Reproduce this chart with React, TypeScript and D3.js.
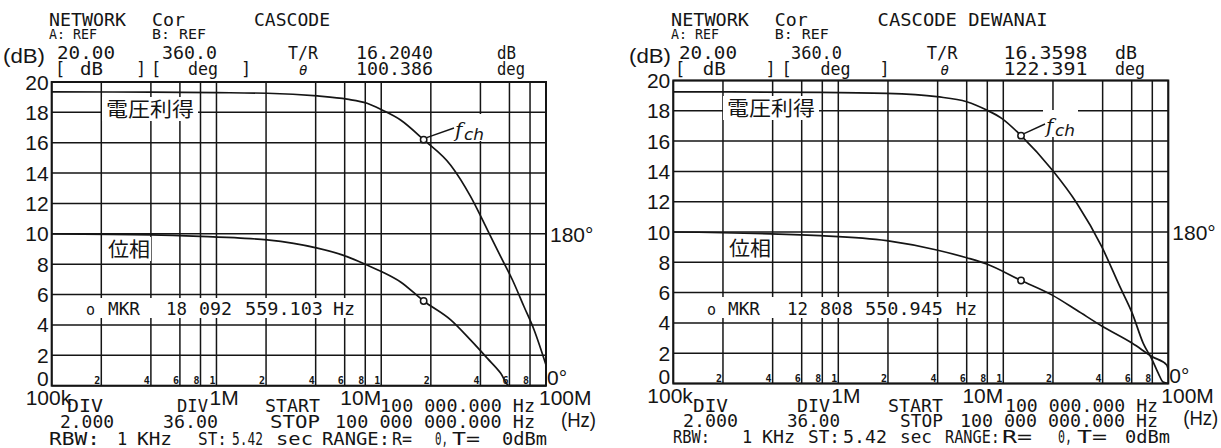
import React from "react";
import * as d3 from "d3";

// ---------------- data ----------------
const yTicks = [0, 2, 4, 6, 8, 10, 12, 14, 16, 18, 20];
const decades = [1e5, 1e6, 1e7];
const gridMults = [1, 2, 4, 6, 8];
const freqDomain = [1e5, 1e8];
const xTickLabels = ["100k", "1M", "10M", "100M"];
const xTickValues = [1e5, 1e6, 1e7, 1e8];

// Left: CASCODE
const gainFreqL = [1e5, 4e5, 1e6, 2.03e6, 4.1e6, 6.2e6, 8.2e6, 10.1e6, 13.1e6, 18.09e6, 26.4e6, 34.9e6, 44.1e6, 53.1e6, 62.6e6, 73.6e6, 84.7e6, 1e8];
const gainDbL = [19.35, 19.33, 19.3, 19.26, 19.08, 18.87, 18.6, 18.16, 17.5, 16.2, 14.52, 12.45, 10.26, 8.5, 6.96, 5.2, 3.67, 1.36];
const phaseFreqL = [1e5, 4e5, 8e5, 1.4e6, 2.03e6, 4.1e6, 6.2e6, 8.2e6, 10.1e6, 13.1e6, 18.09e6, 26.4e6, 34.9e6, 44.1e6, 53.1e6, 59.7e6, 1e8];
const phaseDegL = [180, 178.8, 177, 175, 172.8, 163, 153, 143, 135, 123, 100.4, 78, 54, 32.4, 14.8, 0, 0];
const markerL = { f: 18092559.103, gain: 16.204, phase: 100.386 };

// Right: CASCODE DEWANAI
const gainFreqR = [1e5, 7.75e5, 1.965e6, 3.95e6, 6.0e6, 7.93e6, 9.78e6, 12.81e6, 19.8e6, 27.9e6, 39.5e6, 50.9e6, 60.5e6, 70.5e6, 80e6, 87e6, 92.9e6, 1e8];
const gainDbR = [19.25, 19.22, 19.15, 18.93, 18.6, 18.05, 17.5, 16.36, 14.09, 11.9, 9.03, 6.39, 4.63, 2.65, 1.55, 0.67, 0.1, 0];
const phaseFreqR = [1e5, 7.75e5, 1.965e6, 3.95e6, 6.0e6, 7.93e6, 12.81e6, 19.8e6, 27.9e6, 39.5e6, 60.5e6, 80e6, 97.8e6, 1e8];
const phaseDegR = [180, 175.6, 169.7, 158.6, 149.4, 142, 122.4, 105, 87, 68.3, 47.8, 31.8, 22, 16];
const markerR = { f: 12808550.945, gain: 16.3598, phase: 122.391 };

// ---------------- layout ----------------
type T = { t: string; x: number; y: number; w?: number; s?: number; it?: boolean };

const headerL: T[] = [
  { t: "NETWORK", x: 49, y: 26, w: 77 }, { t: "Cor", x: 152, y: 26, w: 33 }, { t: "CASCODE", x: 254, y: 26, w: 76 },
  { t: "A: REF", x: 49, y: 39, w: 48, s: 14 }, { t: "B: REF", x: 152, y: 39, w: 54, s: 14 },
  { t: "20.00", x: 57, y: 59, w: 58 }, { t: "360.0", x: 162, y: 59, w: 55 }, { t: "T/R", x: 288, y: 59, w: 30 },
  { t: "16.2040", x: 356, y: 59, w: 77 }, { t: "dB", x: 497, y: 59, w: 19 },
  { t: "[", x: 55, y: 75 }, { t: "dB", x: 80, y: 75, w: 23 }, { t: "]", x: 136, y: 75 }, { t: "[", x: 151, y: 75 },
  { t: "deg", x: 188, y: 75, w: 30 }, { t: "]", x: 241, y: 75 }, { t: "θ", x: 299, y: 75, s: 14, it: true },
  { t: "100.386", x: 356, y: 75, w: 77 }, { t: "deg", x: 497, y: 75, w: 28 },
];
const headerR: T[] = [
  { t: "NETWORK", x: 671, y: 26, w: 78 }, { t: "Cor", x: 774.7, y: 26, w: 33 }, { t: "CASCODE DEWANAI", x: 877.6, y: 26, w: 170 },
  { t: "A: REF", x: 671, y: 39, w: 48, s: 14 }, { t: "B: REF", x: 774.7, y: 39, w: 54, s: 14 },
  { t: "20.00", x: 679, y: 59, w: 58 }, { t: "360.0", x: 791, y: 59, w: 51 }, { t: "T/R", x: 926.7, y: 59, w: 31 },
  { t: "16.3598", x: 1003.4, y: 59, w: 84 }, { t: "dB", x: 1115, y: 59, w: 22 },
  { t: "[", x: 675, y: 75 }, { t: "dB", x: 702.8, y: 75, w: 23 }, { t: "]", x: 765.6, y: 75 }, { t: "[", x: 781.4, y: 75 },
  { t: "deg", x: 820.6, y: 75, w: 30 }, { t: "]", x: 879.5, y: 75 }, { t: "θ", x: 940.5, y: 75, s: 14, it: true },
  { t: "122.391", x: 1003.4, y: 75, w: 84 }, { t: "deg", x: 1115, y: 75, w: 30 },
];
const footerL: T[] = [
  { t: "DIV", x: 67, y: 412, w: 36 }, { t: "DIV", x: 177, y: 412, w: 31 }, { t: "START", x: 265, y: 412, w: 55 },
  { t: "100 000.000 Hz", x: 380, y: 412, w: 155 },
  { t: "2.000", x: 60, y: 428, w: 54 }, { t: "36.00", x: 163, y: 428, w: 55 }, { t: "STOP", x: 270, y: 428, w: 50 },
  { t: "100 000 000.000 Hz", x: 335, y: 428, w: 200 },
  { t: "RBW:", x: 49, y: 445, w: 51 }, { t: "1", x: 117, y: 445 }, { t: "KHz", x: 137, y: 445, w: 35 },
  { t: "ST:", x: 198, y: 445, w: 29 }, { t: "5.42", x: 232, y: 445, w: 31 }, { t: "sec", x: 276, y: 445, w: 37 },
  { t: "RANGE:", x: 322, y: 445, w: 68 }, { t: "R=", x: 392, y: 445, w: 20 }, { t: "0,", x: 435, y: 445, w: 13 },
  { t: "T=", x: 452, y: 445, w: 28 }, { t: "0dBm", x: 502, y: 445, w: 45 },
];
const footerR: T[] = [
  { t: "DIV", x: 693, y: 412, w: 35 }, { t: "DIV", x: 797, y: 412, w: 33 }, { t: "START", x: 888, y: 412, w: 55 },
  { t: "100 000.000 Hz", x: 1005, y: 412, w: 153 },
  { t: "2.000", x: 683, y: 427, w: 55 }, { t: "36.00", x: 787, y: 427, w: 53 }, { t: "STOP", x: 900, y: 427, w: 43 },
  { t: "100 000 000.000 Hz", x: 960, y: 427, w: 198 },
  { t: "RBW:", x: 673, y: 443, w: 37 }, { t: "1", x: 742, y: 443 }, { t: "KHz", x: 762, y: 443, w: 33 },
  { t: "ST:", x: 808, y: 443, w: 32 }, { t: "5.42", x: 843, y: 443, w: 44 }, { t: "sec", x: 900, y: 443, w: 32 },
  { t: "RANGE:", x: 945, y: 443, w: 55 }, { t: "R=", x: 1002, y: 443, w: 30 }, { t: "0,", x: 1058, y: 443, w: 14 },
  { t: "T=", x: 1077, y: 443, w: 30 }, { t: "0dBm", x: 1125, y: 443, w: 45 },
];
const mkrL: T[] = [
  { t: "o", x: 86, y: 315, s: 15 }, { t: "MKR", x: 108, y: 315, w: 32 }, { t: "18", x: 166, y: 315, w: 21 },
  { t: "092", x: 199, y: 315, w: 33 }, { t: "559.103", x: 245, y: 315, w: 78 }, { t: "Hz", x: 333, y: 315, w: 22 },
];
const mkrR: T[] = [
  { t: "o", x: 707, y: 315, s: 15 }, { t: "MKR", x: 728, y: 315, w: 32 }, { t: "12", x: 787, y: 315, w: 21 },
  { t: "808", x: 820, y: 315, w: 33 }, { t: "550.945", x: 865, y: 315, w: 78 }, { t: "Hz", x: 956, y: 315, w: 21 },
];

type PanelSpec = {
  x0: number; x1: number; yTop: number; yBot: number;
  gainF: number[]; gainV: number[]; phaseF: number[]; phaseV: number[];
  marker: { f: number; gain: number; phase: number };
  header: T[]; footer: T[]; mkr: T[];
  mkrBox: [number, number, number, number];
  gainLbl: [number, number]; phaseLbl: [number, number];
  fch: [number, number];
  dbX: number;
  bottomLblY: number[];
};

const panels: PanelSpec[] = [
  {
    x0: 51.7, x1: 546, yTop: 82, yBot: 385.7,
    gainF: gainFreqL, gainV: gainDbL, phaseF: phaseFreqL, phaseV: phaseDegL, marker: markerL,
    header: headerL, footer: footerL, mkr: mkrL, mkrBox: [80, 298, 280, 20],
    gainLbl: [106, 117], phaseLbl: [108, 257], fch: [455, 137], dbX: 3, bottomLblY: [405, 427],
  },
  {
    x0: 673.3, x1: 1168.3, yTop: 80.5, yBot: 383.5,
    gainF: gainFreqR, gainV: gainDbR, phaseF: phaseFreqR, phaseV: phaseDegR, marker: markerR,
    header: headerR, footer: footerR, mkr: mkrR, mkrBox: [701, 297, 280, 21],
    gainLbl: [727, 116], phaseLbl: [729, 256], fch: [1046, 133], dbX: 629, bottomLblY: [403, 425],
  },
];

const mono = "'DejaVu Sans Mono', monospace";
const sans = "'Liberation Sans', Arial, sans-serif";
const cjk = "'Noto Sans CJK JP', 'Noto Sans CJK SC', sans-serif";
const INK = "#151515";

function Txt({ d }: { d: T }) {
  const extra: any = d.w ? { textLength: d.w, lengthAdjust: "spacingAndGlyphs" } : {};
  return (
    <text x={d.x} y={d.y} fontFamily={mono} fontSize={d.s ?? 17} fill={INK}
      fontStyle={d.it ? "italic" : "normal"} {...extra}>{d.t}</text>
  );
}

function Panel({ p }: { p: PanelSpec }) {
  const x = d3.scaleLog().domain(freqDomain).range([p.x0, p.x1]);
  const y = d3.scaleLinear().domain([0, 20]).range([p.yBot, p.yTop]);
  const yp = d3.scaleLinear().domain([0, 360]).range([p.yBot, p.yTop]);
  const gainPath = d3.line<number>().x((_, i) => x(p.gainF[i])).y((d) => y(d)).curve(d3.curveMonotoneX)(p.gainV) || "";
  const phasePath = d3.line<number>().x((_, i) => x(p.phaseF[i])).y((d) => yp(d)).curve(d3.curveMonotoneX)(p.phaseV) || "";
  const vLines: { v: number; m: number }[] = [];
  decades.forEach((d) => gridMults.forEach((m) => vLines.push({ v: d * m, m })));
  vLines.push({ v: 1e8, m: 1 });
  const mx = x(p.marker.f);
  const mgy = y(p.marker.gain);
  const mpy = yp(p.marker.phase);
  const [fx, fy] = p.fch;
  return (
    <g>
      {/* grid */}
      {yTicks.map((t) => (
        <line key={"h" + t} x1={p.x0} x2={p.x1} y1={y(t)} y2={y(t)} stroke={INK} strokeWidth={1.5} />
      ))}
      {vLines.map((l) => (
        <line key={"v" + l.v} x1={x(l.v)} x2={x(l.v)} y1={p.yTop} y2={p.yBot} stroke={INK} strokeWidth={1.5} />
      ))}
      {/* minor digits */}
      {vLines.filter((l) => l.v > 1e5 && l.v < 1e8).map((l) => (
        <text key={"m" + l.v} x={x(l.v) - 1} y={p.yBot - 1.5} textAnchor="end" fontFamily={mono}
          fontWeight="bold" fontSize={10} fill={INK}>{String(l.m)}</text>
      ))}
      {/* label boxes */}
      <rect x={p.gainLbl[0] - 4} y={p.gainLbl[1] - 20} width={96} height={24} fill="white" />
      <rect x={p.phaseLbl[0] - 3} y={p.phaseLbl[1] - 20} width={46} height={24} fill="white" />
      <rect x={p.mkrBox[0]} y={p.mkrBox[1]} width={p.mkrBox[2]} height={p.mkrBox[3]} fill="white" />
      <rect x={fx - 3} y={fy - 23} width={35} height={27} fill="white" />
      {/* border */}
      <rect x={p.x0} y={p.yTop} width={p.x1 - p.x0} height={p.yBot - p.yTop} fill="none" stroke={INK} strokeWidth={2} />
      {/* curves */}
      <path d={gainPath} fill="none" stroke={INK} strokeWidth={1.7} />
      <path d={phasePath} fill="none" stroke={INK} strokeWidth={1.7} />
      <circle cx={mx} cy={mgy} r={3.2} fill="white" stroke={INK} strokeWidth={1.5} />
      <circle cx={mx} cy={mpy} r={3.2} fill="white" stroke={INK} strokeWidth={1.5} />
      <line x1={mx + 3} y1={mgy - 2} x2={fx - 1} y2={fy - 9} stroke={INK} strokeWidth={1.4} />
      {/* f_ch */}
      <text x={fx} y={fy} fontFamily="'DejaVu Serif', serif" fontStyle="italic" fontSize={20} fill={INK}>f</text>
      <text x={fx + 9} y={fy + 3} fontFamily="'DejaVu Sans', sans-serif" fontStyle="italic" fontSize={15} fill={INK}
        textLength={20} lengthAdjust="spacingAndGlyphs">ch</text>
      {/* jp labels */}
      <text x={p.gainLbl[0]} y={p.gainLbl[1]} fontFamily={cjk} fontSize={20} fill={INK} textLength={88} lengthAdjust="spacingAndGlyphs">電圧利得</text>
      <text x={p.phaseLbl[0]} y={p.phaseLbl[1]} fontFamily={cjk} fontSize={20} fill={INK} textLength={42} lengthAdjust="spacingAndGlyphs">位相</text>
      {/* y ticks */}
      {yTicks.map((t) => (
        <text key={"yt" + t} x={p.x0 - 3} y={t === 0 ? p.yBot : y(t) + 7.5} textAnchor="end" fontFamily={sans} fontSize={21} fill={INK}>{t}</text>
      ))}
      <text x={p.x1 + 4} y={yp(180) + 8} fontFamily={sans} fontSize={21} fill={INK}>180°</text>
      <text x={p.x1 + 1} y={p.yBot - 1} fontFamily={sans} fontSize={21} fill={INK}>0°</text>
      {/* x labels */}
      <text x={x(xTickValues[0]) - 26} y={p.bottomLblY[0]} fontFamily={sans} fontSize={21} fill={INK}>{xTickLabels[0]}</text>
      <text x={x(xTickValues[1]) - 7} y={p.bottomLblY[0]} fontFamily={sans} fontSize={21} fill={INK}>{xTickLabels[1]}</text>
      <text x={x(xTickValues[2])} y={p.bottomLblY[0]} textAnchor="end" fontFamily={sans} fontSize={21} fill={INK}>{xTickLabels[2]}</text>
      <text x={x(xTickValues[3]) - 7} y={p.bottomLblY[0]} fontFamily={sans} fontSize={21} fill={INK}>{xTickLabels[3]}</text>
      <text x={p.x1 + 15} y={p.bottomLblY[1]} fontFamily={sans} fontSize={20} fill={INK} textLength={35} lengthAdjust="spacingAndGlyphs">(Hz)</text>
      <text x={p.dbX} y={63} fontFamily={sans} fontSize={21} fill={INK} textLength={42} lengthAdjust="spacingAndGlyphs">(dB)</text>
      {/* plotter text */}
      {p.header.map((d, i) => <Txt key={"hd" + i} d={d} />)}
      {p.footer.map((d, i) => <Txt key={"ft" + i} d={d} />)}
      {p.mkr.map((d, i) => <Txt key={"mk" + i} d={d} />)}
    </g>
  );
}

export default function App() {
  return (
    <svg width={1221} height={448} viewBox="0 0 1221 448"
      style={{ position: "absolute", left: 0, top: 0, background: "white" }}>
      <rect x={0} y={0} width={1221} height={448} fill="white" />
      {panels.map((p, i) => <Panel key={i} p={p} />)}
    </svg>
  );
}
